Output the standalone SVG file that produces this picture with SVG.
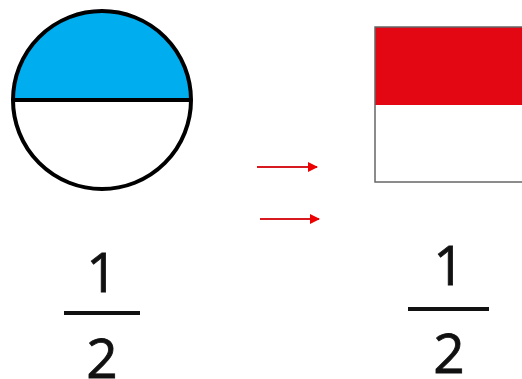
<svg xmlns="http://www.w3.org/2000/svg" width="522" height="379" viewBox="0 0 522 379">
<style>
.num{font-family:"Open Sans","Liberation Sans",sans-serif;font-size:55px;fill:#111;stroke:#111;stroke-width:0.8;text-anchor:middle}
.bar{stroke:#111;stroke-width:4}
.arr{stroke:#d71920;stroke-width:2;fill:none}
</style>
<defs>
<marker id="ah" viewBox="0 0 10 10" refX="9" refY="5" markerWidth="5.5" markerHeight="5" orient="auto" markerUnits="strokeWidth">
<path d="M0,0 L10,5 L0,10 z" fill="#e00"/>
</marker>
</defs>
<rect width="522" height="379" fill="#fff"/>
<g id="circle">
<path d="M13,100 A89,89 0 0 1 191,100 Z" fill="#00aeef"/>
<circle cx="102" cy="100" r="89" fill="none" stroke="#000" stroke-width="4"/>
<line x1="13" y1="100" x2="191" y2="100" stroke="#000" stroke-width="4"/>
</g>
<g id="rectangle">
<rect x="375" y="27" width="150" height="78" fill="#e30613"/>
<rect x="375" y="27" width="150" height="155" fill="none" stroke="#666" stroke-width="1.5"/>
</g>
<g id="connectors">
<line class="arr" x1="257" y1="167" x2="317" y2="167" marker-end="url(#ah)"/>
<line class="arr" x1="260" y1="219" x2="319" y2="219" marker-end="url(#ah)"/>
</g>
<g id="fraction-left">
<text class="num" x="102" y="292">1</text>
<line class="bar" x1="64" y1="313" x2="140" y2="313"/>
<text class="num" x="102" y="378">2</text>
</g>
<g id="fraction-right">
<text class="num" x="449" y="285">1</text>
<line class="bar" x1="408" y1="309" x2="489" y2="309"/>
<text class="num" x="449" y="373">2</text>
</g>
</svg>
